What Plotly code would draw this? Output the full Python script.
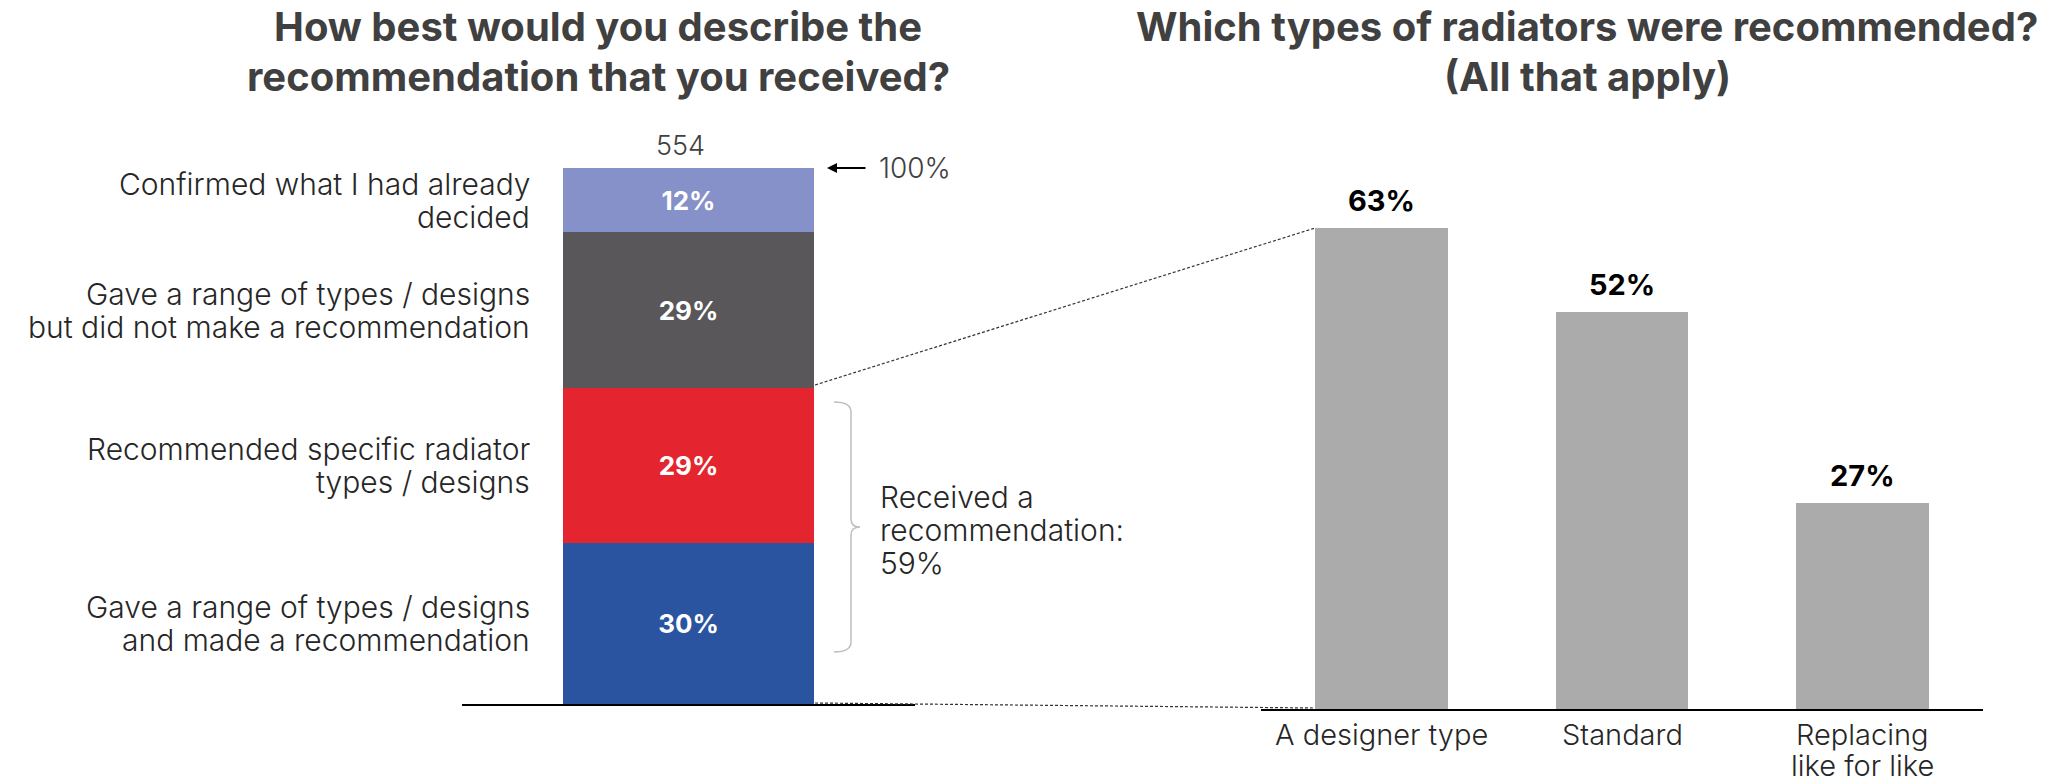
import plotly.graph_objects as go

W, H = 2069, 782

# ---------------- data ----------------
left_categories = [
    "Gave a range of types / designs<br>and made a recommendation",
    "Recommended specific radiator<br>types / designs",
    "Gave a range of types / designs<br>but did not make a recommendation",
    "Confirmed what I had already<br>decided",
]
left_values = [30, 29, 29, 12]
left_colors = ["#2A54A0", "#E42530", "#59575A", "#8591C8"]
base_n = "554"
received_total = 59

right_categories = ["A designer type", "Standard", "Replacing<br>like for like"]
right_values = [63, 52, 27]
right_color = "#ABABAB"

titles_left = ["How best would you describe the", "recommendation that you received?"]
titles_right = ["Which types of radiators were recommended?", "(All that apply)"]

FONT = "Inter"
TXT = "#262626"
LS = 33  # line spacing in px for light labels


def px(x):
    return x / W


def py(y):
    return 1 - y / H


fig = go.Figure()

# left stacked bar
for cat, val, col in zip(left_categories, left_values, left_colors):
    fig.add_trace(go.Bar(
        x=[0], y=[val], name=cat, marker=dict(color=col, line=dict(width=0)),
        width=0.555, text=[f"{val}%"], textposition="inside", insidetextanchor="middle",
        textangle=0, textfont=dict(color="white", size=26, family=FONT, weight=700),
        xaxis="x", yaxis="y", showlegend=False, hoverinfo="skip",
    ))

# right bars
fig.add_trace(go.Bar(
    x=right_categories, y=right_values, marker=dict(color=right_color, line=dict(width=0)),
    width=0.55, xaxis="x2", yaxis="y2", showlegend=False, cliponaxis=False, hoverinfo="skip",
))

per_pct = (709 - 228) / 63.0
top2 = 709 - 70 * per_pct

fig.update_layout(
    width=W, height=H, margin=dict(l=0, r=0, t=0, b=0),
    paper_bgcolor="white", plot_bgcolor="white", barmode="stack",
    xaxis=dict(domain=[px(462), px(915)], range=[-0.5, 0.5], showline=True, linecolor="black",
               linewidth=2, showticklabels=False, showgrid=False, zeroline=False, ticks=""),
    yaxis=dict(domain=[py(704), py(168)], range=[0, 100], visible=False),
    xaxis2=dict(domain=[px(1261), px(1983)], range=[-0.5, 2.5], showline=True, linecolor="black",
                linewidth=2, showgrid=False, zeroline=False, ticks="", anchor="y2",
                showticklabels=False),
    yaxis2=dict(domain=[py(709), py(top2)], range=[0, 70], visible=False, anchor="x2"),
)

ann = []
# titles
for i, t in enumerate(titles_left):
    ann.append(dict(text=t, x=px(598), y=py(27 + 49 * i), xref="paper", yref="paper",
                    showarrow=False, xanchor="center", yanchor="middle",
                    font=dict(family=FONT, size=40, color="#404040", weight=700)))
for i, t in enumerate(titles_right):
    ann.append(dict(text=t, x=px(1587), y=py(27 + 49 * i), xref="paper", yref="paper",
                    showarrow=False, xanchor="center", yanchor="middle",
                    font=dict(family=FONT, size=40, color="#404040", weight=700)))

light = dict(family=FONT, size=30, color=TXT, weight=300)

# left category labels at segment centres
cum = 0
for cat, val in zip(left_categories, left_values):
    lines = cat.split("<br>")
    n = len(lines)
    for i, ln in enumerate(lines):
        ann.append(dict(text=ln, x=px(532), y=cum + val / 2, xref="paper", yref="y",
                        showarrow=False, xanchor="right", yanchor="middle", align="right",
                        yshift=((n - 1) / 2 - i) * LS, font=light))
    cum += val

# right value labels and category labels
for cat, val in zip(right_categories, right_values):
    ann.append(dict(text=f"{val}%", x=cat, y=val, xref="x2", yref="y2", showarrow=False,
                    xanchor="center", yanchor="bottom", yshift=8,
                    font=dict(family=FONT, size=29, color="black", weight=700)))
    lines = cat.split("<br>")
    for i, ln in enumerate(lines):
        ann.append(dict(text=ln, x=cat, y=0, xref="x2", yref="y2", showarrow=False,
                        xanchor="center", yanchor="middle", yshift=-26 - i * 31,
                        font=dict(family=FONT, size=29, color=TXT, weight=300)))

# base size
ann.append(dict(text=base_n, x=0, y=cum, xref="x", yref="y", showarrow=False,
                xanchor="center", yanchor="bottom", yshift=4, xshift=-8,
                font=dict(family=FONT, size=27, color="#404040", weight=300)))
# arrow and 100%
ann.append(dict(text="", x=px(827), y=cum, xref="paper", yref="y", ax=40, ay=0,
                showarrow=True, arrowhead=2, arrowsize=1, arrowwidth=2, arrowcolor="black"))
ann.append(dict(text=f"{cum}%", x=px(877), y=cum, xref="paper", yref="y", showarrow=False,
                xanchor="left", yanchor="middle",
                font=dict(family=FONT, size=28, color="#404040", weight=300)))
# bracket text
for i, ln in enumerate(["Received a", "recommendation:", f"{received_total}%"]):
    ann.append(dict(text=ln, x=px(878), y=py(497 + 33 * i), xref="paper", yref="paper",
                    showarrow=False, xanchor="left", yanchor="middle", align="left",
                    font=light))
fig.update_layout(annotations=ann)

# bracket path
bx, bl, bm = 851, 834, 860
yt, yb = 402, 652
ym = (yt + yb) / 2
path = (f"M {px(bl)},{py(yt)} Q {px(bx)},{py(yt)} {px(bx)},{py(yt+10)} "
        f"L {px(bx)},{py(ym-8)} Q {px(bx)},{py(ym)} {px(bm)},{py(ym)} "
        f"Q {px(bx)},{py(ym)} {px(bx)},{py(ym+8)} "
        f"L {px(bx)},{py(yb-10)} Q {px(bx)},{py(yb)} {px(bl)},{py(yb)}")
dash = dict(color="#333333", width=1.2, dash="3px,2px")
shapes = [
    dict(type="path", path=path, xref="paper", yref="paper",
         line=dict(color="#BFBFBF", width=1.5)),
    dict(type="line", xref="paper", yref="paper", x0=px(815), y0=py(385), x1=px(1315), y1=py(228),
         line=dash),
    dict(type="line", xref="paper", yref="paper", x0=px(815), y0=py(703), x1=px(1315), y1=py(708),
         line=dash),
]
fig.update_layout(shapes=shapes)

fig.write_html("out.html")
